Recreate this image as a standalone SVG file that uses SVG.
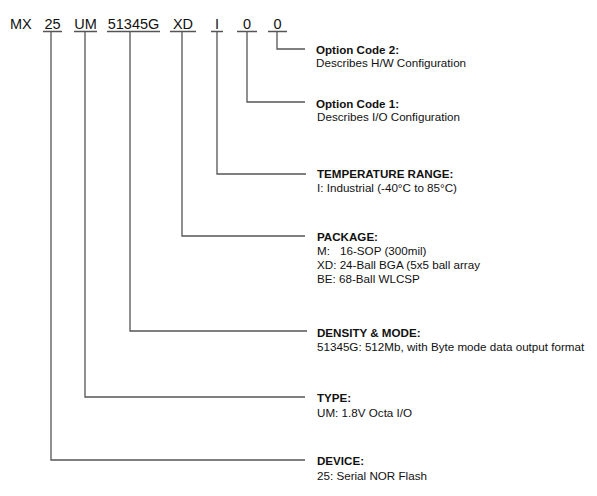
<svg xmlns="http://www.w3.org/2000/svg" width="597" height="496" viewBox="0 0 597 496">
<style>
.code{font-family:"Liberation Sans",Arial,sans-serif;font-size:14.5px;fill:#111;text-anchor:middle}
.t{font-family:"Liberation Sans",Arial,sans-serif;font-size:11.6px;font-weight:bold;fill:#111}
.b{font-family:"Liberation Sans",Arial,sans-serif;font-size:11.65px;fill:#111}
.ln{fill:none;stroke:#555;stroke-width:1.3}
</style>
<rect width="597" height="496" fill="#fff"/>
<g id="part-number">
<text class="code" x="10" y="29" style="text-anchor:start">MX</text>
<text class="code" x="52.5" y="29">25</text>
<text class="code" x="85.5" y="29">UM</text>
<text class="code" x="133.5" y="29">51345G</text>
<text class="code" x="183" y="29">XD</text>
<text class="code" x="217" y="29">I</text>
<text class="code" x="247" y="29">0</text>
<text class="code" x="277.5" y="29">0</text>
<g class="ln">
<path d="M43 31.5H62M74 31.5H97M107 31.5H160M170 31.5H196M211 31.5H223M237 31.5H257M268 31.5H287"/>
</g>
</g>
<g id="connectors" class="ln">
<path d="M277 31.5V49H305"/>
<path d="M247 31.5V102H305"/>
<path d="M217 31.5V174H306"/>
<path d="M182 31.5V236H305"/>
<path d="M130 31.5V331H307"/>
<path d="M85 31.5V397H305"/>
<path d="M51 31.5V460H305"/>
</g>
<g id="option2">
<text class="t" x="316" y="54">Option Code 2:</text>
<text class="b" x="316" y="66.5">Describes H/W Configuration</text>
</g>
<g id="option1">
<text class="t" x="316" y="108">Option Code 1:</text>
<text class="b" x="317" y="121">Describes I/O Configuration</text>
</g>
<g id="temperature">
<text class="t" x="317" y="178">TEMPERATURE RANGE:</text>
<text class="b" x="317" y="191.5">I: Industrial (-40°C to 85°C)</text>
</g>
<g id="package">
<text class="t" x="317" y="241">PACKAGE:</text>
<text class="b" x="317" y="255">M:<tspan x="340">16-SOP (300mil)</tspan></text>
<text class="b" x="317" y="269">XD: 24-Ball BGA (5x5 ball array</text>
<text class="b" x="317" y="283">BE: 68-Ball WLCSP</text>
</g>
<g id="density">
<text class="t" x="317" y="336.5">DENSITY &amp; MODE:</text>
<text class="b" x="317" y="351">51345G: 512Mb, with Byte mode data output format</text>
</g>
<g id="type">
<text class="t" x="317" y="402">TYPE:</text>
<text class="b" x="317" y="416.5">UM: 1.8V Octa I/O</text>
</g>
<g id="device">
<text class="t" x="317" y="465">DEVICE:</text>
<text class="b" x="317" y="480">25: Serial NOR Flash</text>
</g>
</svg>
